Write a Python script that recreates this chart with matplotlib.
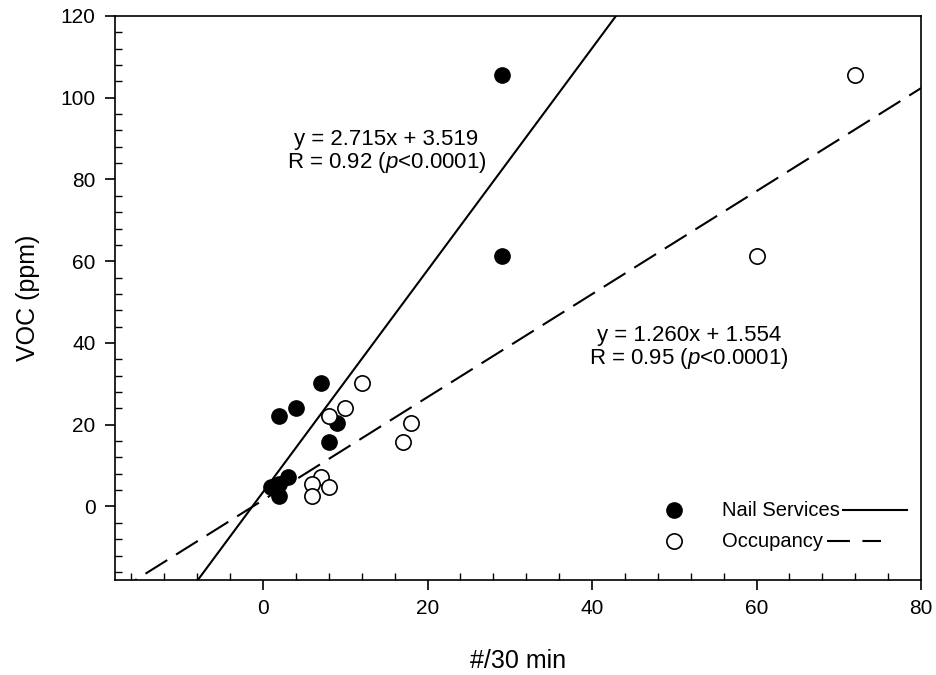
import numpy as np
import matplotlib
matplotlib.use('Agg')
import matplotlib.pyplot as plt
from matplotlib.ticker import MultipleLocator

plt.rcParams['font.family'] = ['Liberation Sans', 'DejaVu Sans']
plt.rcParams['mathtext.fontset'] = 'custom'
plt.rcParams['mathtext.rm'] = 'Liberation Sans'
plt.rcParams['mathtext.it'] = 'Liberation Sans:italic'

# Nail services (filled)
nail_x = [29, 29, 7, 4, 2, 9, 8, 3, 1, 2, 2]
nail_y = [105.5, 61.2, 30.2, 24.2, 22.1, 20.5, 15.7, 7.2, 4.7, 5.5, 2.6]
nail_fit = (2.715, 3.519)

# Occupancy (open)
occ_x = [72, 60, 12, 10, 8, 18, 17, 7, 6, 8, 6]
occ_y = [105.5, 61.2, 30.2, 24.2, 22.1, 20.5, 15.7, 7.2, 5.5, 4.7, 2.6]
occ_fit = (1.260, 1.554)

xlim = (-18, 80)
ylim = (-18, 120)

fig = plt.figure(figsize=(9.37, 6.75), dpi=100)
ax = fig.add_axes([0.1227, 0.1407, 0.8603, 0.8356])

xx = np.array(xlim, dtype=float)
ax.plot(xx, nail_fit[0] * xx + nail_fit[1], color='black', lw=1.5)
ax.plot(xx, occ_fit[0] * xx + occ_fit[1], color='black', lw=1.5, dashes=(12.3, 5))

ax.plot(nail_x, nail_y, 'o', ms=11, mfc='black', mec='black', mew=1, zorder=3)
ax.plot(occ_x, occ_y, 'o', ms=11, mfc='white', mec='black', mew=1.2, zorder=3)

ax.set_xlim(xlim)
ax.set_ylim(ylim)
ax.xaxis.set_major_locator(MultipleLocator(20))
ax.xaxis.set_minor_locator(MultipleLocator(4))
ax.yaxis.set_major_locator(MultipleLocator(20))
ax.yaxis.set_minor_locator(MultipleLocator(4))
ax.tick_params(which='major', direction='out', length=7, width=1.2, labelsize=15, pad=7)
ax.tick_params(which='minor', direction='in', length=5, width=1.0)
for s in ax.spines.values():
    s.set_linewidth(1.2)

ax.set_xlabel('#/30 min', fontsize=18, labelpad=22)
ax.set_ylabel('VOC (ppm)', fontsize=18, labelpad=15)

ax.text(15.0, 86.8, 'y = 2.715x + 3.519\nR = 0.92 ($p$<0.0001)', ha='center', va='center',
        fontsize=16, linespacing=1.0)
ax.text(51.8, 38.8, 'y = 1.260x + 1.554\nR = 0.95 ($p$<0.0001)', ha='center', va='center',
        fontsize=16, linespacing=1.0)

# legend drawn by hand: marker, label, line sample
tr = ax.transAxes
ax.plot([0.6935], [0.124], 'o', ms=11, mfc='black', mec='black', transform=tr, clip_on=False)
ax.plot([0.6935], [0.069], 'o', ms=11, mfc='white', mec='black', mew=1.2, transform=tr, clip_on=False)
ax.text(0.753, 0.124, 'Nail Services', transform=tr, fontsize=14.5, va='center')
ax.text(0.753, 0.069, 'Occupancy', transform=tr, fontsize=14.5, va='center')
ax.plot([0.903, 0.9826], [0.124, 0.124], color='black', lw=1.5, transform=tr)
ax.plot([0.883, 0.950], [0.069, 0.069], color='black', lw=1.5, dashes=(11, 6), transform=tr)

fig.savefig('out.png', dpi=100)
